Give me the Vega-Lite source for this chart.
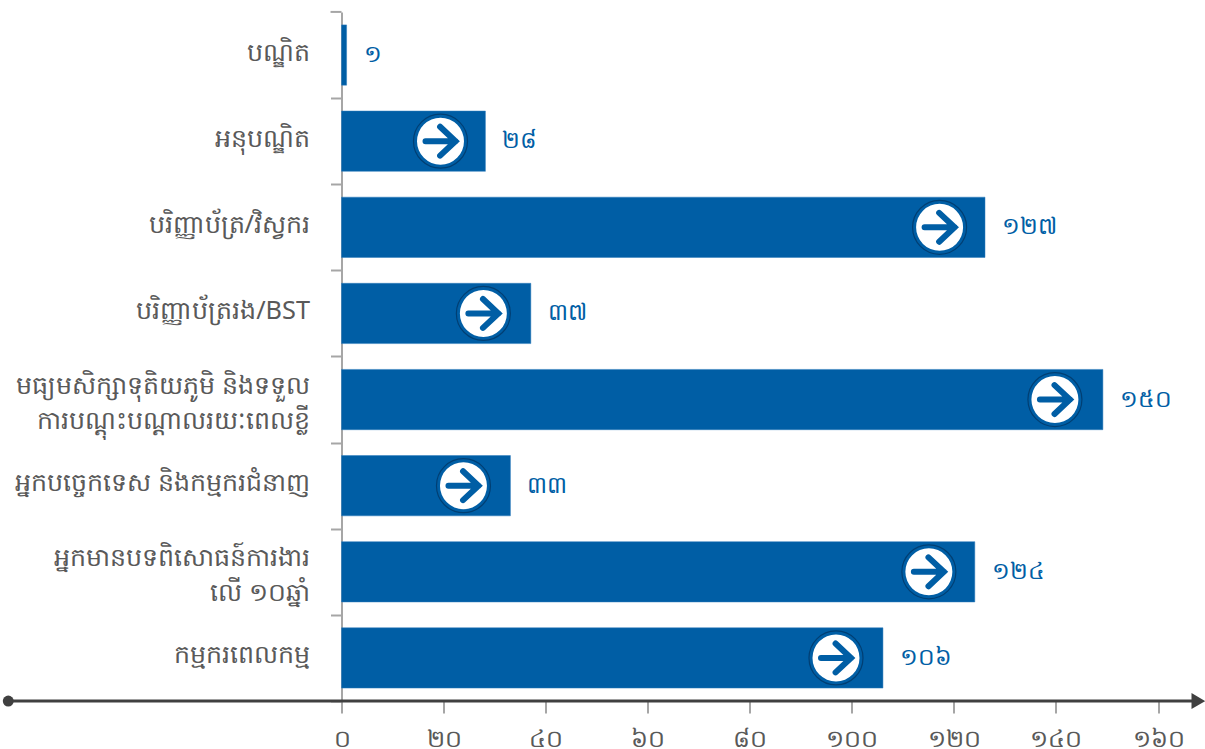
{"$schema":"https://vega.github.io/schema/vega-lite/v6.json","width":816.5,"height":689,"autosize":{"type":"none"},"padding":{"left":341.5,"top":12,"right":47,"bottom":48},"background":"white","config":{"view":{"stroke":null},"font":"Noto Sans"},
"datasets":{"rows":[
{"cat":"បណ្ឌិត","v":1,"t":"១"},
{"cat":"អនុបណ្ឌិត","v":28.2,"t":"២៨","b":19.4},
{"cat":"បរិញ្ញាប័ត្រ/វិស្វករ","v":126.1,"t":"១២៧","b":117.2},
{"cat":"បរិញ្ញាប័ត្ររង/BST","v":37.1,"t":"៣៧","b":27.8},
{"cat":"មធ្យមសិក្សាទុតិយភូមិ និងទទួល|ការបណ្តុះបណ្តាលរយៈពេលខ្លី","v":149.2,"t":"១៥០","b":139.8},
{"cat":"អ្នកបច្ចេកទេស និងកម្មករជំនាញ","v":33.1,"t":"៣៣","b":23.9},
{"cat":"អ្នកមានបទពិសោធន៍ការងារ|លើ ១០ឆ្នាំ","v":124.1,"t":"១២៤","b":115.1},
{"cat":"កម្មករពេលកម្ម","v":106.1,"t":"១០៦","b":96.9}],
"toptick":[{"cat":"បណ្ឌិត","x":-2.15,"x2":0}],
"axisline":[{"cat":"កម្មករពេលកម្ម","x":-65.3,"x2":166.8}],"start":[{"cat":"កម្មករពេលកម្ម","x":-65.3}],"end":[{"cat":"កម្មករពេលកម្ម","x":167.9}]},
"data":{"name":"rows"},
"encoding":{"y":{"field":"cat","type":"nominal","sort":null,"scale":{"paddingInner":0.3,"paddingOuter":0.15},"axis":{"title":null,"domainColor":"#A6A6A6","domainWidth":2,"tickColor":"#A6A6A6","tickWidth":2,"tickSize":11,"tickOffset":43,"labelColor":"#595959","labelFontSize":25.3,"labelFont":"Noto Sans","labelPadding":21,"labelLimit":340,"labelLineHeight":35,"labelOffset":{"condition":{"test":"indexof(datum.value,'|')>=0","value":-57},"value":-46},"grid":false,"labelExpr":"split(datum.value,'|')"}}},
"layer":[
{"mark":{"type":"bar","color":"#005EA5","stroke":"#2E7DBC","strokeWidth":0.5},"encoding":{
"x":{"field":"v","type":"quantitative","scale":{"domain":[0,160],"nice":false},"axis":{"title":null,"orient":"bottom","values":[0,20,40,60,80,100,120,140,160],"domain":false,"grid":false,"tickColor":"#A6A6A6","tickWidth":2,"tickSize":12,"labelPadding":14,"labelFlush":false,"labelColor":"#595959","labelFontSize":24,"labelFont":"Noto Sans","labelExpr":"['០','២០','៤០','៦០','៨០','១០០','១២០','១៤០','១៦០'][datum.value/20]"}}}},
{"mark":{"type":"text","align":"left","baseline":"middle","dx":17,"font":"Noto Sans","fontSize":23.5,"color":"#005EA5"},"encoding":{"x":{"field":"v","type":"quantitative"},"text":{"field":"t"}}},
{"transform":[{"filter":"isValid(datum.b)"}],"mark":{"type":"point","shape":"circle","filled":false,"stroke":"#003F73","strokeWidth":1.2,"size":2916,"opacity":1},"encoding":{"x":{"field":"b","type":"quantitative"}}},
{"transform":[{"filter":"isValid(datum.b)"}],"mark":{"type":"point","shape":"circle","filled":true,"fill":"white","stroke":null,"size":2209,"opacity":1},"encoding":{"x":{"field":"b","type":"quantitative"}}},
{"transform":[{"filter":"isValid(datum.b)"}],"mark":{"type":"point","shape":"M-0.75,0L0.75,0M-0.02,-0.72L0.75,0L-0.02,0.72","filled":false,"stroke":"#005EA5","strokeWidth":6,"strokeCap":"round","strokeJoin":"miter","size":1600,"opacity":1},"encoding":{"x":{"field":"b","type":"quantitative"}}},
{"data":{"name":"toptick"},"mark":{"type":"rule","color":"#A6A6A6","strokeWidth":2,"yOffset":-13},"encoding":{"x":{"field":"x","type":"quantitative"},"x2":{"field":"x2"},"y":{"field":"cat","type":"nominal","sort":null,"bandPosition":0}}},
{"data":{"name":"axisline"},"mark":{"type":"rule","color":"#404040","strokeWidth":3,"yOffset":13},"encoding":{"x":{"field":"x","type":"quantitative"},"x2":{"field":"x2"},"y":{"field":"cat","type":"nominal","sort":null,"bandPosition":1}}},
{"data":{"name":"start"},"mark":{"type":"point","shape":"circle","filled":true,"fill":"#404040","size":120,"opacity":1,"yOffset":13},"encoding":{"x":{"field":"x","type":"quantitative"},"y":{"field":"cat","type":"nominal","sort":null,"bandPosition":1}}},
{"data":{"name":"end"},"mark":{"type":"point","shape":"M-0.85,-1L0.85,0L-0.85,1Z","filled":true,"fill":"#404040","size":256,"opacity":1,"yOffset":13},"encoding":{"x":{"field":"x","type":"quantitative"},"y":{"field":"cat","type":"nominal","sort":null,"bandPosition":1}}}
]}
